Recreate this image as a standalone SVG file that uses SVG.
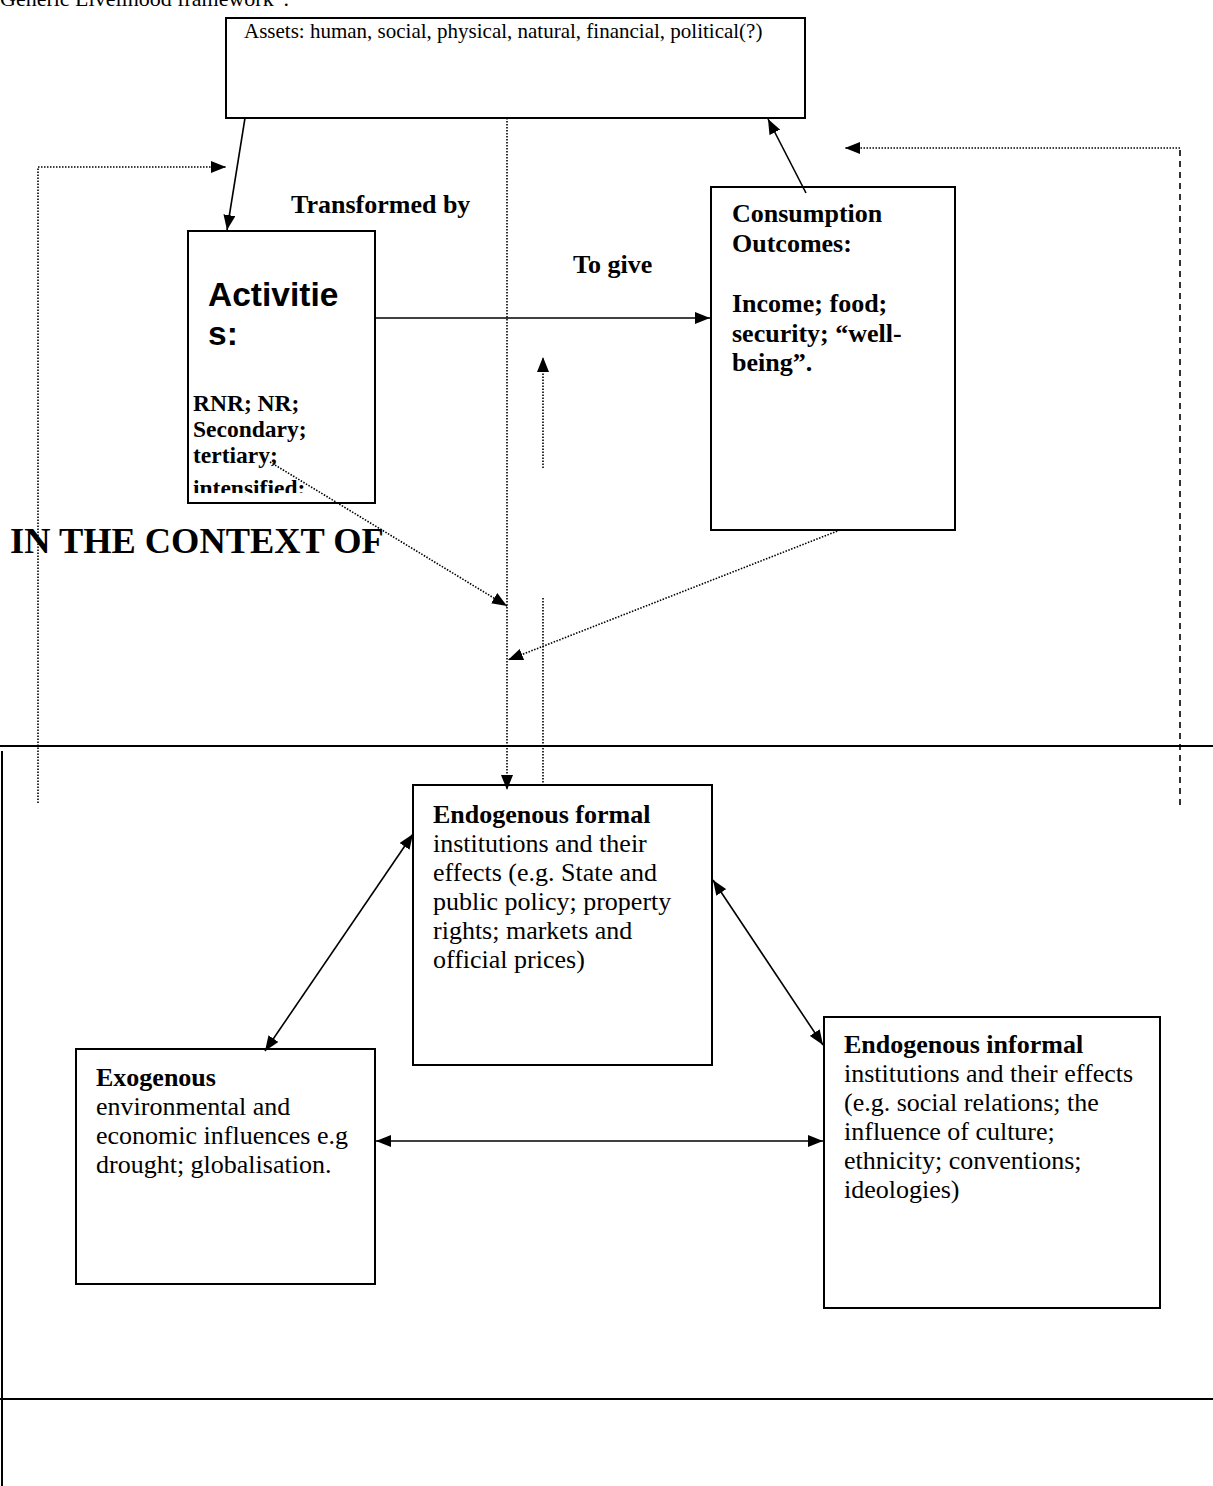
<svg xmlns="http://www.w3.org/2000/svg" width="1213" height="1486" viewBox="0 0 1213 1486">
<style>
text{font-family:"Liberation Serif","Times New Roman",serif;fill:#000}
.b{font-weight:bold}
.sans{font-family:"Liberation Sans",Arial,sans-serif;font-weight:bold;font-size:33.5px}
.box{fill:#fff;stroke:#000;stroke-width:2}
.solid{fill:none;stroke:#000;stroke-width:1.6}
.dot{fill:none;stroke:#000;stroke-width:1.6;stroke-dasharray:1.5 1.5}
.dash{fill:none;stroke:#000;stroke-width:1.6;stroke-dasharray:6 5}
.rule{fill:none;stroke:#000;stroke-width:2}
.t26{font-size:26px}
.t23{font-size:23.5px}
</style>
<defs>
<marker id="ah" markerUnits="userSpaceOnUse" markerWidth="16" markerHeight="12" refX="15" refY="6" orient="auto-start-reverse">
<path d="M0,0 L15,6 L0,12 z" fill="#000"/>
</marker>
<clipPath id="actclip"><rect x="188" y="231" width="187" height="262"/></clipPath>
</defs>

<text x="0" y="6" font-size="22">Generic Livelihood framework”.</text>

<g id="rules">
<line class="rule" x1="0" y1="746" x2="1213" y2="746"/>
<line class="rule" x1="0" y1="1399" x2="1213" y2="1399"/>
<line class="rule" x1="2" y1="751" x2="2" y2="1486"/>
</g>

<g id="assets">
<rect class="box" x="226" y="18" width="579" height="100"/>
<text x="244" y="38" font-size="21">Assets:  human, social, physical, natural, financial, political(?)</text>
</g>

<g id="activities">
<rect class="box" x="188" y="231" width="187" height="272"/>
<g clip-path="url(#actclip)">
<text class="sans" x="208" y="306">Activitie</text>
<text class="sans" x="208" y="345">s:</text>
<text class="b t23" x="193" y="411">RNR; NR;</text>
<text class="b t23" x="193" y="437">Secondary;</text>
<text class="b t23" x="193" y="463">tertiary;</text>
<text class="b t23" x="193" y="496">intensified;</text>
</g>
</g>

<g id="consumption">
<rect class="box" x="711" y="187" width="244" height="343"/>
<text class="b t26" x="732" y="222">Consumption</text>
<text class="b t26" x="732" y="252">Outcomes:</text>
<text class="b t26" x="732" y="312">Income; food;</text>
<text class="b t26" x="732" y="342">security; “well-</text>
<text class="b t26" x="732" y="371">being”.</text>
</g>

<g id="labels">
<text class="b t26" x="291" y="213">Transformed by</text>
<text class="b t26" x="573" y="273">To give</text>
<text class="b" x="10" y="553" font-size="36.4">IN THE CONTEXT OF</text>
</g>

<g id="formal">
<rect class="box" x="413" y="785" width="299" height="280"/>
<text class="t26 b" x="433" y="823">Endogenous formal</text>
<text class="t26" x="433" y="852">institutions and their</text>
<text class="t26" x="433" y="881">effects (e.g. State and</text>
<text class="t26" x="433" y="910">public policy; property</text>
<text class="t26" x="433" y="939">rights; markets and</text>
<text class="t26" x="433" y="968">official prices)</text>
</g>

<g id="informal">
<rect class="box" x="824" y="1017" width="336" height="291"/>
<text class="t26 b" x="844" y="1053">Endogenous informal</text>
<text class="t26" x="844" y="1082">institutions and their effects</text>
<text class="t26" x="844" y="1111">(e.g. social relations; the</text>
<text class="t26" x="844" y="1140">influence of culture;</text>
<text class="t26" x="844" y="1169">ethnicity; conventions;</text>
<text class="t26" x="844" y="1198">ideologies)</text>
</g>

<g id="exogenous">
<rect class="box" x="76" y="1049" width="299" height="235"/>
<text class="t26 b" x="96" y="1086">Exogenous</text>
<text class="t26" x="96" y="1115">environmental and</text>
<text class="t26" x="96" y="1144">economic influences e.g</text>
<text class="t26" x="96" y="1173">drought; globalisation.</text>
</g>

<g id="connectors">
<line class="solid" x1="245" y1="118" x2="227" y2="230" marker-end="url(#ah)"/>
<line class="solid" x1="375" y1="318" x2="710" y2="318" marker-end="url(#ah)"/>
<line class="solid" x1="806" y1="193" x2="768" y2="119" marker-end="url(#ah)"/>
<polyline class="dot" points="1180,148 845,148" marker-end="url(#ah)"/>
<line class="dash" x1="1180" y1="150" x2="1180" y2="805"/>
<polyline class="dot" points="38,803 38,167 226,167" marker-end="url(#ah)"/>
<line class="dot" x1="507" y1="118" x2="507" y2="790" marker-end="url(#ah)"/>
<line class="dot" x1="270" y1="462" x2="507" y2="606" marker-end="url(#ah)"/>
<line class="dot" x1="840" y1="530" x2="508" y2="660" marker-end="url(#ah)"/>
<line class="dot" x1="543" y1="598" x2="543" y2="783"/>
<line class="dot" x1="543" y1="468" x2="543" y2="357" marker-end="url(#ah)"/>
<line class="solid" x1="265" y1="1051" x2="413" y2="834" marker-start="url(#ah)" marker-end="url(#ah)"/>
<line class="solid" x1="713" y1="880" x2="823" y2="1045" marker-start="url(#ah)" marker-end="url(#ah)"/>
<line class="solid" x1="376" y1="1141" x2="823" y2="1141" marker-start="url(#ah)" marker-end="url(#ah)"/>
</g>
</svg>
